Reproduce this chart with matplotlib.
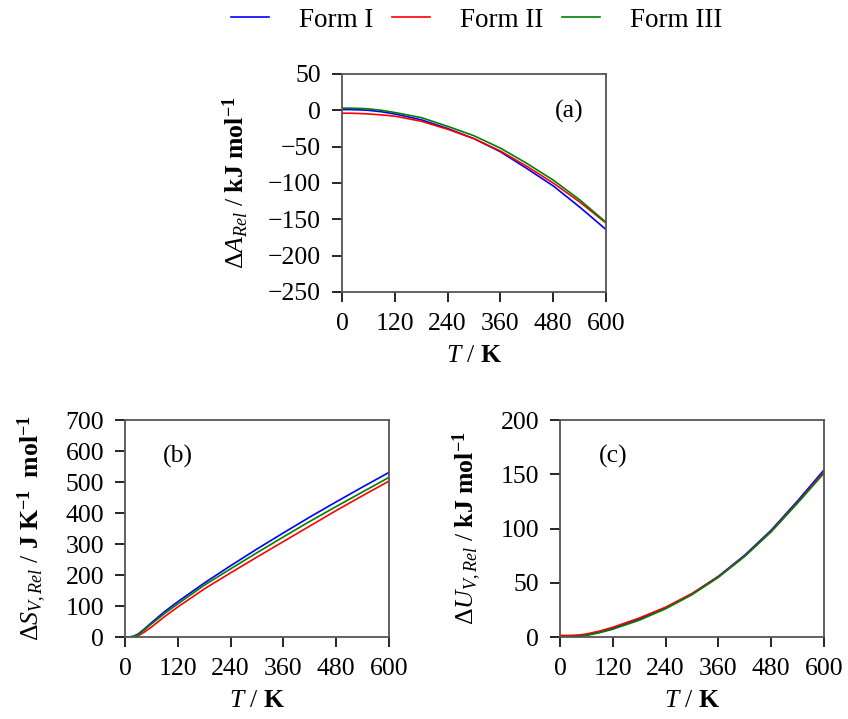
import matplotlib.pyplot as plt

plt.rcParams['font.family'] = ['Liberation Serif', 'DejaVu Serif']
plt.rcParams['mathtext.fontset'] = 'custom'
plt.rcParams['mathtext.rm'] = 'Liberation Serif'
plt.rcParams['mathtext.it'] = 'Liberation Serif:italic'
plt.rcParams['mathtext.bf'] = 'Liberation Serif:bold'
plt.rcParams['font.size'] = 18.5

# temperatures (K)
T = [0, 10, 20, 30, 45, 60, 90, 120, 180, 240, 300, 360, 420, 480, 540, 600]

# (a) Helmholtz free energy, kJ/mol
A_form1 = [1, 1, 1, 0.8, 0.5, 0, -2, -5, -13, -25, -39, -57, -80, -104, -133, -164]
A_form2 = [-4, -4, -4, -4.2, -4.5, -5, -6.3, -8, -15, -26, -39, -56, -77, -100, -126, -155]
A_form3 = [3, 3, 3, 2.8, 2.5, 2, 0, -3, -10, -22, -35, -52, -73, -96, -123, -154]

# (b) vibrational entropy, J/K/mol
S_form1 = [0, 0, 3, 10, 27, 46, 82, 114, 174, 230, 284, 336, 387, 436, 484, 531]
S_form2 = [0, 0, 0, 4, 17, 32, 66, 97, 155, 207, 258, 308, 358, 408, 456, 503]
S_form3 = [0, 0, 2, 8, 24, 42, 76, 107, 167, 220, 272, 323, 373, 421, 468, 515]

# (c) vibrational internal energy, kJ/mol
U_form1 = [0.5, 0.5, 0.5, 0.6, 1, 2, 4.5, 8, 16.5, 27, 40, 56, 75.5, 98.5, 125.5, 154]
U_form2 = [1.5, 1.5, 1.5, 1.6, 2, 2.8, 5.5, 9, 17.5, 27.5, 40, 55.5, 74.5, 97.5, 124, 152]
U_form3 = [0.3, 0.3, 0.3, 0.4, 0.8, 1.4, 4, 7.2, 15.5, 26, 39, 55, 74.5, 97, 123.5, 151]

labels = ['Form I', 'Form II', 'Form III']
colors = ['blue', 'red', 'green']
xticks = [0, 120, 240, 360, 480, 600]

fig = plt.figure(figsize=(8.48, 7.19), dpi=100)
ax_a = fig.add_axes([0.4033, 0.5939, 0.3113, 0.3032])
ax_b = fig.add_axes([0.1474, 0.1140, 0.3113, 0.3018])
ax_c = fig.add_axes([0.6604, 0.1140, 0.3113, 0.3018])


def style(ax, ylim, yticks, ylabel, tag, tx):
    ax.set_xlim(0, 600)
    ax.set_ylim(*ylim)
    ax.set_xticks(xticks)
    ax.set_yticks(yticks)
    ax.tick_params(direction='out', length=7, width=1.2, top=False, right=False, pad=8)
    for s in ax.spines.values():
        s.set_color('#555555')
        s.set_linewidth(1.3)
    ax.set_xlabel(r'$T$ / $\mathbf{K}$', labelpad=7)
    ax.set_ylabel(ylabel, labelpad=12)
    ax.text(tx, 0.83, tag, transform=ax.transAxes, ha='center', va='center')


lines = []
for y, c, lab in zip([A_form1, A_form2, A_form3], colors, labels):
    ln, = ax_a.plot(T, y, color=c, lw=1.2, label=lab)
    lines.append(ln)
for y, c in zip([S_form1, S_form2, S_form3], colors):
    ax_b.plot(T, y, color=c, lw=1.2)
for y, c in zip([U_form1, U_form2, U_form3], colors):
    ax_c.plot(T, y, color=c, lw=1.2)

style(ax_a, (-250, 50), range(-250, 51, 50),
      r'$\Delta A_{Rel}$ / $\mathbf{kJ\ mol^{-1}}$', '(a)', 0.86)
style(ax_b, (0, 700), range(0, 701, 100),
      r'$\Delta S_{V,Rel}$ / $\mathbf{J\ K^{-1}\ \ mol^{-1}}$', '(b)', 0.2)
style(ax_c, (0, 200), range(0, 201, 50),
      r'$\Delta U_{V,Rel}$ / $\mathbf{kJ\ mol^{-1}}$', '(c)', 0.2)

fig.legend(handles=lines, loc='center', bbox_to_anchor=(0.562, 0.972), ncol=3,
           frameon=False, fontsize=19.5, handlelength=1.4, columnspacing=0.7,
           handletextpad=1.1)

fig.savefig('out.png', dpi=100)
